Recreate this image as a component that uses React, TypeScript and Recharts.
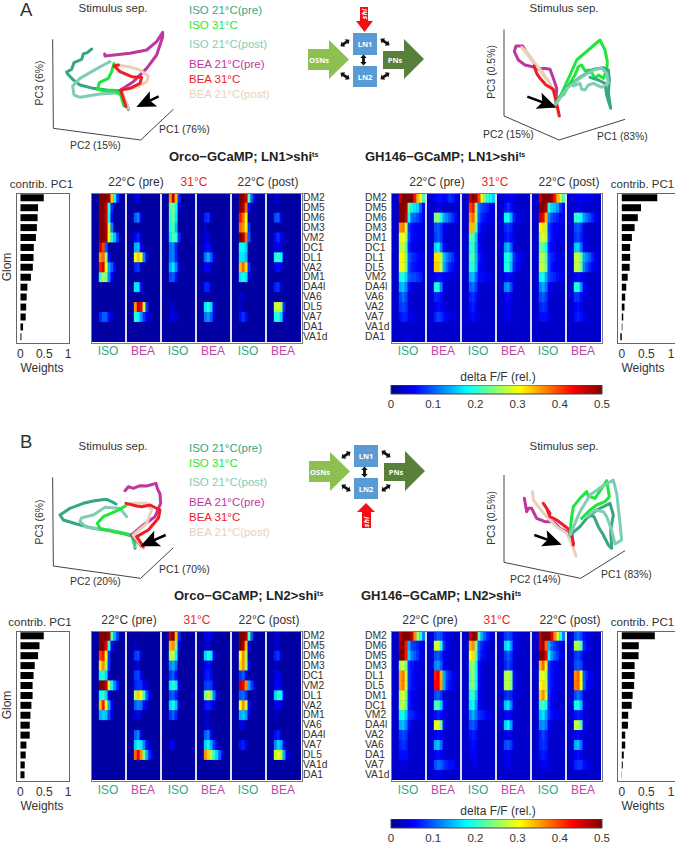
import React from "react";
import {
  Bar,
  BarChart,
  Scatter,
  ScatterChart,
  XAxis,
  YAxis,
} from "recharts";

const FONT = '"Liberation Sans", Arial, sans-serif';
const TEXT = "#333";

const ISO_PRE = "#35a782";
const ISO_31 = "#1fe63a";
const ISO_POST = "#80cdb6";
const BEA_PRE = "#c0369f";
const BEA_31 = "#ee1c25";
const BEA_POST = "#ebcfb8";
const TRACE_COLORS = [ISO_PRE, ISO_POST, ISO_31, BEA_PRE, BEA_POST, BEA_31];

// glomerulus order of each panel
const GLOM_A1 = ["DM2", "DM5", "DM6", "DM3", "VM2", "DC1", "DL1", "VA2", "DM1", "DA4l", "VA6", "DL5", "VA7", "DA1", "VA1d"];
const GLOM_A2 = ["DM2", "DM5", "DM6", "DM3", "DM1", "DC1", "DL1", "DL5", "VM2", "DA4l", "VA6", "VA2", "VA7", "VA1d", "DA1"];
const GLOM_B1 = ["DM2", "DM5", "DM6", "DM3", "DC1", "VM2", "DL1", "VA2", "DM1", "VA6", "DA4l", "VA7", "DL5", "VA1d", "DA1"];
const GLOM_B2 = ["DM2", "DM6", "DM5", "DM3", "DL1", "DL5", "DM1", "DC1", "VM2", "DA4l", "VA2", "VA6", "DA1", "VA7", "VA1d"];

// PC1 weights
const WEIGHTS_A1 = [0.49, 0.37, 0.36, 0.345, 0.325, 0.28, 0.275, 0.26, 0.22, 0.145, 0.13, 0.12, 0.11, 0.055, 0.02];
const WEIGHTS_A2 = [0.72, 0.39, 0.325, 0.26, 0.205, 0.17, 0.17, 0.16, 0.12, 0.09, 0.07, 0.055, 0.03, 0.012, -0.03];
const WEIGHTS_B1 = [0.49, 0.4, 0.37, 0.3, 0.275, 0.255, 0.255, 0.23, 0.21, 0.195, 0.195, 0.125, 0.11, 0.09, 0.085];
const WEIGHTS_B2 = [0.67, 0.345, 0.34, 0.26, 0.26, 0.25, 0.22, 0.2, 0.13, 0.125, 0.07, 0.07, 0.04, 0.02, 0.005];

// Heatmap rows: delta F/F x100 per time bin, starting at odor onset
const A1_ISO_PRE = [[50,50,50,48,33,18,8],[50,50,46,20,8],[50,50,45,18,5],[50,50,47,28,12],[50,50,48,30,20,15,8],[46,40,10],[36,38,25,6],[42,45,30,14,10,5],[20,26,24,12,5],[],[],[],[7,10,10,6,3],[],[]];
const A1_BEA_PRE = [[3,5],[],[10,12,4],[],[5,7,3],[14,15,5],[30,33,30,12,4],[7,8,3],[],[17,17,6],[],[36,46,44,28,8],[20,18,13,8,5,3],[],[]];
const A1_ISO_31 = [[36,46,34,8],[22,24,18,4],[21,23,17],[20,22,15],[17,22,20,8],[11,12,7],[11,12,7],[14,17,12,4],[9,10,6],[],[],[3,3],[3,4,3],[],[]];
const A1_BEA_31 = [[],[],[7,8,3],[3],[4,4],[5,6,3],[11,14,10,4],[5,5,3],[],[7,7,3],[],[17,20,16,4],[11,13,10,4],[],[]];
const A1_ISO_POST = [[50,50,46,22,10,4],[50,48,38,6],[42,38,30],[38,36,30,8],[50,48,38,10],[18,18,16],[17,17,15],[34,38,32,8],[17,19,17,4],[],[3,3],[3],[6,8,6],[],[]];
const A1_BEA_POST = [[3,3],[],[9,10,4],[],[6,8,5,3],[4,5,3],[19,21,18,4],[5,6,4],[],[7,8,3],[],[27,29,26,8],[19,20,16,5],[],[]];

const A2_ISO_PRE = [[46,50,50,50,50,42,34,30,22],[50,50,48,24,18,17,16,10,5],[50,50,46,18,11,10,9,7,5],[36,37,28,8,6,5,5,4,4],[29,30,26,9,6,5,5,4,4],[27,28,22,7,5,4,4,4,3],[30,31,24,10,8,7,6,5,5],[29,30,24,9,7,6,5,5,4],[19,20,16,10,9,9,8,7,4],[14,15,12,6,4,4,3,3,3],[9,11,9,4,3,3,3,3,3],[8,9,8,4,3,3,3,3,3],[6,7,7,5,4,4,3,3,3],[3,3,3,3],[3,3,4,4,3]];
const A2_BEA_PRE = [[5,6,6,5,6,8,7,5],[3,4,4,3],[24,25,20,14,12,10,8,6],[9,10,8,5,4],[8,10,8,4,3],[16,18,12,6,4,3],[32,32,27,15,12,10,8,5],[33,33,27,14,10,7,6,4],[5,6,6,5,4,4,4],[19,20,12,5,3],[7,7,6,3],[5,6,5,4,3],[7,9,8,6,5,4,4],[3,3,3],[3,3,3]];
const A2_ISO_31 = [[46,50,48,40,30,24,20,18,16],[40,42,24,11,9,8,7,5,4],[36,38,26,10,7,6,5,4,4],[34,34,22,7,5,4,4,3,3],[22,22,15,5,4,3,3,3,3],[20,21,14,6,4,3,3,3],[21,22,15,7,5,4,4,3,3],[20,20,15,6,5,4,3,3],[14,15,10,6,6,5,5,4,3],[10,11,8,4,3,3],[7,8,6,3,3],[6,7,5,3],[5,6,5,4,3],[3],[3,3]];
const A2_BEA_31 = [[4,5,5,4],[6,8,6,4],[18,19,14,7,5,4],[7,8,7,4],[6,7,6,4],[13,15,10,4],[18,20,16,8,6,5,4],[19,20,15,7,5,4],[5,6,5,4],[12,13,9,4],[5,6,4],[4,5,4],[4,5,4],[3],[3]];
const A2_ISO_POST = [[46,50,50,50,48,42,34,28,22],[50,50,47,20,16,15,13,8,5],[46,44,34,12,9,8,7,5,4],[31,32,26,8,6,5,5,4,4],[26,29,27,9,6,5,4,4,4],[23,23,18,7,5,4,4,3],[26,27,22,9,7,6,5,4,4],[27,28,23,9,6,5,5,4,4],[18,19,14,9,8,7,6,5,4],[12,14,11,5,4,3,3],[9,10,8,4,3,3],[7,8,7,3,3],[6,6,6,4,3],[3,3],[3,3]];
const A2_BEA_POST = [[4,5,5,4,4,5,4],[3,4,4],[20,21,18,13,11,9,7,5],[9,10,8,4],[8,9,7,4],[15,16,11,5,4],[27,28,24,14,12,10,7,5],[27,28,23,12,9,7,5,4],[5,6,5,4],[19,20,13,5,4],[8,8,6,4],[5,6,5,3],[6,7,6,5,4],[3],[3]];

const B1_ISO_PRE = [[50,50,50,48,22,14,8],[50,50,44,20,6],[40,42,30,8],[32,36,26,8],[18,20,16,3],[50,50,46,28,18,12,7],[18,20,16,4],[34,42,30,14,5],[14,16,15,9,3],[],[],[],[],[],[]];
const B1_BEA_PRE = [[],[3],[8,9,3],[3,3],[8,9,5],[7,8,8,5,3],[26,33,30,20,10,5],[10,12,11,6,3],[4,4,3],[],[10,12,4],[16,19,17,12,6,3],[38,44,36,24,14,7,3],[],[]];
const B1_ISO_31 = [[46,50,34,8],[34,36,24,5],[26,28,18],[12,14,10],[8,10,6],[17,20,17,4],[9,10,7],[16,19,15,3],[8,10,7],[],[],[4,5],[],[],[]];
const B1_BEA_31 = [[4,5,4],[3,3],[16,19,17,5],[5,6,4],[6,7,5],[8,9,8,3],[24,28,24,12,5],[6,7,6,3],[3,3],[3,4],[10,12,5],[16,18,14,8,4],[36,33,26,20,16,10,5],[],[]];
const B1_ISO_POST = [[50,50,48,22,10],[50,48,34,5],[30,36,26],[32,36,26,6],[8,10,6],[46,44,36,14,8,4],[10,11,8],[30,36,28,6],[14,15,13,4],[4,4],[],[6,7,4],[],[],[]];
const B1_BEA_POST = [[3,4],[3,3],[7,8,3],[3],[4,5,3],[5,5,4],[16,20,18,5],[4,5,4],[3],[],[6,7,3],[12,16,14,6],[28,30,27,14,5,3],[],[]];

const B2_ISO_PRE = [[46,50,50,50,46,36,26,20,12],[48,50,42,14,9,8,7,5,4],[50,50,42,16,12,10,8,5,4],[26,28,23,8,6,5,4,4,3],[35,37,28,8,6,5,4,4,4],[35,37,28,8,6,5,4,4,3],[27,29,24,7,5,4,4,3,3],[26,28,22,7,5,4,4,3,3],[18,19,15,8,7,6,5,4,3],[14,15,12,6,4,3,3,3],[8,9,8,4,3,3],[7,8,7,3,3],[6,6,6,4,3],[4,4,4,3],[3,3]];
const B2_BEA_PRE = [[8,10,9,6,4,4],[28,29,20,8,5,4],[9,10,8,5,4],[12,13,10,5,4],[42,44,34,14,9,7,5,4],[43,44,35,14,8,6,5],[9,10,8,4],[21,22,16,6,4],[6,7,6,4],[29,30,23,6,4],[5,6,5,4],[14,15,11,4],[5,6,5,4],[9,11,10,8,7,6,6,4],[4,4,4,3]];
const B2_ISO_31 = [[46,50,48,22,14,10,7,5],[34,36,24,10,7,5,4],[30,32,22,9,6,5,4],[24,26,18,6,4],[23,25,18,6,4,3],[23,25,18,6,4,3],[19,21,15,5,4],[17,19,13,5,4],[12,14,11,8,7,6,5,4],[9,10,8,4,3],[6,7,6,3],[5,6,5,3],[5,5,5,3],[3,4,4,3],[3,3]];
const B2_BEA_31 = [[8,9,8,5,4],[16,18,13,5,4],[8,10,8,4],[7,9,7,4],[26,28,24,6,4],[26,28,24,6,4],[7,8,7,4],[15,17,12,4],[5,6,5,3],[16,18,13,4],[4,5,4,3],[9,10,8,4],[4,5,4],[4,5,4,3],[3,3]];
const B2_ISO_POST = [[46,50,50,50,44,36,28,20,12],[46,48,38,14,10,8,7,5,4],[50,50,44,18,13,10,8,5,4],[34,38,30,8,6,5,4,3],[28,30,26,8,6,5,4,4],[30,32,27,8,6,5,4,4],[33,36,28,8,5,4,4,3],[20,22,18,7,5,4,3],[15,17,13,8,6,5,5,4],[12,13,11,5,4,3],[7,9,7,4,3],[7,8,7,3],[6,7,6,4,3],[4,5,5,4,3],[3,3]];
const B2_BEA_POST = [[9,11,9,6,4,4],[26,27,22,7,5,4],[8,9,7,4],[9,10,9,4],[36,38,30,10,7,5,4],[37,38,30,10,6,5,4],[9,11,9,4],[18,20,15,5,4],[6,7,6,4],[27,28,22,5,4],[5,6,5,3],[14,15,11,4],[5,6,5,3],[7,8,8,6,5,4],[3,3,3]];

// PC trajectories, projected to the page plane
const TA1_ISO_PRE = [[385,328],[372,300],[360,272],[320,270],[280,265],[240,255],[218,238],[203,222],[200,216],[215,208],[222,188],[245,178],[250,162],[262,158],[275,147]];
const TA1_ISO_POST = [[385,325],[365,278],[300,282],[240,292],[222,285],[218,258],[240,235],[275,215],[305,198],[330,185]];
const TA1_ISO_31 = [[372,318],[362,285],[345,272],[310,272],[293,268],[298,248],[325,235],[335,215],[342,190]];
const TA1_BEA_PRE = [[385,325],[362,270],[400,245],[440,205],[470,165],[488,110],[488,97],[470,125],[440,150],[390,160],[315,168],[314,162]];
const TA1_BEA_POST = [[385,325],[365,270],[410,262],[440,245],[445,228],[420,210],[385,200],[350,195]];
const TA1_BEA_31 = [[378,320],[362,270],[390,265],[420,250],[425,232],[395,230],[360,215],[342,198],[355,195]];

const TA2_ISO_PRE = [[642,320],[680,262],[720,232],[760,208],[790,203],[805,210],[808,240],[805,280],[812,325],[800,285],[795,250],[775,240],[750,232]];
const TA2_ISO_POST = [[642,320],[680,265],[720,235],[760,210],[785,205],[800,220],[805,250],[785,262],[760,250],[745,255],[735,270],[725,268],[720,250],[700,258]];
const TA2_ISO_31 = [[645,315],[665,280],[690,225],[710,180],[745,150],[780,120],[795,150],[802,185],[800,210],[790,235],[775,225],[765,235],[750,210],[735,212],[725,195],[715,200],[705,225],[690,250],[670,285]];
const TA2_BEA_PRE = [[648,315],[650,265],[640,235],[630,208],[612,205],[595,208],[578,200],[555,195],[535,180],[523,155],[528,138],[548,138],[565,165],[590,200]];
const TA2_BEA_POST = [[655,345],[645,290],[630,250],[610,220],[580,185],[555,155],[545,142],[560,155],[585,190],[620,240]];
const TA2_BEA_31 = [[658,348],[650,310],[640,268],[618,255],[600,235],[590,220],[582,198]];

const TB1_ISO_PRE = [[405,385],[400,350],[350,335],[280,325],[230,312],[190,300],[180,285],[210,265],[250,250],[280,243],[300,240],[320,238],[335,245],[348,252]];
const TB1_ISO_POST = [[405,380],[395,345],[330,330],[260,322],[240,305],[245,293],[280,285],[315,262],[360,265],[380,290]];
const TB1_ISO_31 = [[405,375],[395,345],[340,335],[300,325],[292,310],[310,290],[345,275],[365,265],[380,255]];
const TB1_BEA_PRE = [[425,380],[395,345],[430,315],[465,290],[482,250],[480,222],[472,205],[468,190],[440,198],[420,197],[400,205],[385,200],[375,212]];
const TB1_BEA_POST = [[430,385],[400,345],[440,310],[455,270],[440,250],[400,250],[380,252]];
const TB1_BEA_31 = [[430,380],[410,350],[445,330],[475,295],[480,270],[450,255],[425,260],[410,258],[378,250]];

const TB2_ISO_PRE = [[690,345],[720,320],[740,295],[770,270],[810,250],[820,285],[812,330],[815,385],[805,375],[790,345],[775,320],[762,290],[745,285]];
const TB2_ISO_POST = [[690,345],[720,275],[750,225],[785,200],[820,180],[830,220],[838,290],[845,360],[825,372],[815,330],[800,290],[790,275],[765,270],[740,290]];
const TB2_ISO_31 = [[690,340],[695,290],[700,260],[720,235],[740,215],[745,228],[765,235],[785,205],[800,182],[808,230],[795,245],[770,255],[750,270],[725,295]];
const TB2_BEA_PRE = [[700,370],[690,340],[660,325],[640,305],[615,305],[590,295],[575,265],[565,265],[560,275],[553,235]];
const TB2_BEA_POST = [[708,408],[695,370],[680,340],[650,320],[620,290],[595,260],[580,240],[578,215]];
const TB2_BEA_31 = [[700,375],[695,335],[670,315],[650,300],[630,290],[620,265],[610,250],[630,280]];

// PC axes corners and pointer arrows of each projection
const AXES_A1 = [[158,118],[160,385],[422,420],[520,328]];
const AXES_A2 = [[492,88],[492,348],[657,420],[855,358]];
const AXES_B1 = [[158,172],[160,438],[422,475],[520,383]];
const AXES_B2 = [[492,165],[492,427],[722,475],[855,392]];
const POINTER_A1 = [[476,289],[420,316]];
const POINTER_A2 = [[562,290],[638,318]];
const POINTER_B1 = [[497,345],[432,374]];
const POINTER_B2 = [[583,345],[654,370]];

const BAR_TICKS = [0, 0.5, 1];
const CBAR_TICKS = [0, 0.1, 0.2, 0.3, 0.4, 0.5];
const CBAR_RANGE = [{ name: "delta F/F", v: 0.5 }];
const JET_STOPS = [
  { at: 0, rgb: [0, 0, 143] },
  { at: 0.11, rgb: [0, 0, 255] },
  { at: 0.36, rgb: [0, 255, 255] },
  { at: 0.61, rgb: [255, 255, 0] },
  { at: 0.86, rgb: [255, 0, 0] },
  { at: 1, rgb: [128, 0, 0] },
];
const CONDITIONS = ["ISO", "BEA", "ISO", "BEA", "ISO", "BEA"];
const PANEL_EDGES = [1, 2, 3, 4, 5];

const BINS = 12;
const ONSET = 3;

const jet = (t: number) => {
  const v = Math.max(0, Math.min(1, t));
  for (let i = 1; i < JET_STOPS.length; i++) {
    const a = JET_STOPS[i - 1];
    const b = JET_STOPS[i];
    if (v <= b.at) {
      const f = (v - a.at) / (b.at - a.at);
      const c = a.rgb.map((ch, k) => Math.round(ch + (b.rgb[k] - ch) * f));
      return `rgb(${c[0]},${c[1]},${c[2]})`;
    }
  }
  return "rgb(128,0,0)";
};

const T = ({ x, y, children, color = TEXT, size = 12, anchor = "start", rotate = false, bold = false }: any) => (
  <div
    style={{
      position: "absolute",
      left: x,
      top: y,
      color,
      fontSize: size,
      fontWeight: bold ? 700 : 400,
      fontFamily: FONT,
      whiteSpace: "nowrap",
      lineHeight: 0.95,
      transform: rotate
        ? "translate(-50%,-50%) rotate(-90deg)"
        : anchor === "middle"
        ? "translate(-50%,-50%)"
        : "translateY(-50%)",
    }}
  >
    {children}
  </div>
);

const noDot = () => <g />;

// one heatmap: six panels of stimulus responses, drawn as a cell per time bin
const Heatmap = ({ left, top, panels, base }: any) => {
  const width = 210;
  const height = 149;
  const cells = panels.flatMap((panel: number[][], p: number) =>
    panel.flatMap((row, r) =>
      Array.from({ length: BINS }, (_, b) => ({
        x: p * BINS + b + 0.25,
        y: r + 0.5,
        v: b >= ONSET && row[b - ONSET] !== undefined ? row[b - ONSET] : base,
      }))
    )
  );
  const cw = width / (BINS * 6) + 0.4;
  const ch = height / 15 + 0.4;
  const Cell = (props: any) => (
    <rect x={props.cx - cw / 2} y={props.cy - ch / 2} width={cw} height={ch} fill={jet(props.payload.v / 50)} />
  );
  return (
    <>
      <div style={{ position: "absolute", left, top, width, height, overflow: "hidden", background: jet(base / 50) }}>
        <div style={{ filter: "blur(0.5px)" }}>
          <ScatterChart width={width} height={height} margin={{ top: 0, right: 0, bottom: 0, left: 0 }}>
            <XAxis type="number" dataKey="x" domain={[0, BINS * 6]} hide />
            <YAxis type="number" dataKey="y" domain={[0, 15]} reversed hide />
            <Scatter data={cells} shape={Cell} isAnimationActive={false} />
            {PANEL_EDGES.map((p) => (
              <Scatter
                key={p}
                data={[{ x: p * BINS, y: 0 }, { x: p * BINS, y: 15 }]}
                line={{ stroke: "#f4f6fa", strokeWidth: 1.8 }}
                shape={noDot}
                isAnimationActive={false}
              />
            ))}
          </ScatterChart>
        </div>
      </div>
      <div style={{ position: "absolute", left: left - 0.5, top: top - 0.5, width, height, border: "1px solid #7a7a85", pointerEvents: "none" }} />
    </>
  );
};

const WeightBars = ({ left, top, boxWidth, domain, weights, gloms, openRight = false }: any) => {
  const data = gloms.map((g: string, i: number) => ({ glom: g, w: weights[i] }));
  return (
    <>
      <div
        style={{
          position: "absolute",
          left: left - 0.5,
          top: top - 0.5,
          width: boxWidth,
          height: 149,
          border: "1px solid #666",
          borderRightWidth: openRight ? 0 : 1,
        }}
      />
      <div style={{ position: "absolute", left: left - 8, top }}>
        <BarChart
          layout="vertical"
          width={boxWidth + 16}
          height={172}
          data={data}
          margin={{ top: 0, right: 8, bottom: 0, left: 8 }}
          barCategoryGap="13%"
        >
          <XAxis
            type="number"
            domain={domain}
            ticks={BAR_TICKS}
            interval={0}
            allowDataOverflow
            axisLine={false}
            tickLine={false}
            height={23}
            tickMargin={1}
            tick={{ fill: TEXT, fontSize: 12, fontFamily: FONT }}
          />
          <YAxis type="category" dataKey="glom" hide />
          <Bar dataKey="w" fill="#000" isAnimationActive={false} />
        </BarChart>
      </div>
    </>
  );
};

const Colorbar = ({ top, id }: any) => (
  <div style={{ position: "absolute", left: 379, top }}>
    <BarChart
      layout="vertical"
      width={235}
      height={30}
      data={CBAR_RANGE}
      margin={{ top: 0, right: 12, bottom: 0, left: 12 }}
      barCategoryGap={0}
    >
      <defs>
        <linearGradient id={id} x1="0" y1="0" x2="1" y2="0">
          {JET_STOPS.map((s) => (
            <stop key={s.at} offset={`${s.at * 100}%`} stopColor={`rgb(${s.rgb.join(",")})`} />
          ))}
        </linearGradient>
      </defs>
      <XAxis
        type="number"
        domain={[0, 0.5]}
        ticks={CBAR_TICKS}
        interval={0}
        height={21}
        axisLine={false}
        tickLine={false}
        tickMargin={0}
        tick={{ fill: TEXT, fontSize: 11.5, fontFamily: FONT }}
      />
      <YAxis type="category" dataKey="name" hide />
      <Bar dataKey="v" fill={`url(#${id})`} stroke="#444" isAnimationActive={false} />
    </BarChart>
  </div>
);

const toPoints = (pts: number[][]) => pts.map(([x, y]) => ({ x, y }));

// 3D projection plot, values in a frame of width x height (tripled page units)
const Projection = ({ left, top, width, height, traces, axes, pointer, order = [0, 1, 2, 3, 4, 5] }: any) => {
  const [tail, tip] = pointer;
  const angle = (Math.atan2(tip[1] - tail[1], tip[0] - tail[0]) * 180) / Math.PI;
  const Head = (props: any) => (
    <polygon
      points="4,0 -15,-8.5 -11,0 -15,8.5"
      fill="#000"
      transform={`translate(${props.cx} ${props.cy}) rotate(${angle})`}
    />
  );
  return (
    <div style={{ position: "absolute", left, top }}>
      <ScatterChart width={width / 3} height={height / 3} margin={{ top: 0, right: 0, bottom: 0, left: 0 }}>
        <XAxis type="number" dataKey="x" domain={[0, width]} hide />
        <YAxis type="number" dataKey="y" domain={[0, height]} reversed hide />
        <Scatter data={toPoints(axes)} line={{ stroke: "#444", strokeWidth: 1 }} shape={noDot} isAnimationActive={false} />
        {order.map((i: number) => (
          <Scatter
            key={i}
            data={toPoints(traces[i])}
            line={{ stroke: TRACE_COLORS[i], strokeWidth: 3, strokeLinejoin: "round", strokeLinecap: "round" }}
            shape={noDot}
            isAnimationActive={false}
          />
        ))}
        <Scatter data={toPoints(pointer)} line={{ stroke: "#000", strokeWidth: 2.5 }} shape={noDot} isAnimationActive={false} />
        <Scatter data={toPoints([tip])} shape={Head} isAnimationActive={false} />
      </ScatterChart>
    </div>
  );
};

const DoubleArrow = ({ x, y, angle }: any) => (
  <g transform={`translate(${x} ${y}) rotate(${angle})`} fill="#111">
    <rect x={-3} y={-1.4} width={6} height={2.8} />
    <polygon points="-5.5,0 -2,-3.2 -2,3.2" />
    <polygon points="5.5,0 2,-3.2 2,3.2" />
  </g>
);

const Circuit = ({ dx, dy, shiBelow }: any) => (
  <svg style={{ position: "absolute", left: 0, top: 0 }} width={675} height={846}>
    <g transform={`translate(${dx} ${dy})`} fontFamily='"Open Sans", sans-serif' fontWeight={700} fill="#fff" textAnchor="middle">
      <polygon points="308,49 329,49 329,40 349,59.5 329,79 329,70 308,70" fill="#8cc152" />
      <text x={319} y={62.5} fontSize={7.5} fill="#fff">OSNs</text>
      <polygon points="383,51 404,51 404,39 424,59 404,79 404,69 383,69" fill="#58803a" />
      <text x={395} y={62.5} fontSize={7.5} fill="#fff">PNs</text>
      <rect x={353} y={33} width={24} height={22} fill="#5b9bd5" />
      <rect x={353} y={66} width={24} height={21} fill="#5b9bd5" />
      <text x={365} y={47} fontSize={7.5} fill="#fff">LN1</text>
      <text x={365} y={79.5} fontSize={7.5} fill="#fff">LN2</text>
      <DoubleArrow x={345} y={43} angle={-35} />
      <DoubleArrow x={385} y={42} angle={35} />
      <DoubleArrow x={363.5} y={60} angle={90} />
      <DoubleArrow x={345} y={76} angle={35} />
      <DoubleArrow x={385} y={76} angle={-35} />
      {shiBelow ? (
        <>
          <polygon points="365,91 374,100 370,100 370,116 361,116 361,100 356,100" fill="#f40f14" />
          <text transform="translate(368 110) rotate(-90)" fontSize={7.5} fontStyle="italic" fill="#fff">shi</text>
        </>
      ) : (
        <>
          <polygon points="360,7 368,7 368,21 373,21 364.5,32 356,21 360,21" fill="#f40f14" />
          <text transform="translate(367 14) rotate(-90)" fontSize={7.5} fontStyle="italic" fill="#fff">shi</text>
        </>
      )}
    </g>
  </svg>
);

const LEGEND_LABELS = [
  { text: "ISO 21°C(pre)", color: ISO_PRE, y: 10 },
  { text: "ISO 31°C", color: ISO_31, y: 24.5 },
  { text: "ISO 21°C(post)", color: ISO_POST, y: 44 },
  { text: "BEA 21°C(pre)", color: BEA_PRE, y: 64 },
  { text: "BEA 31°C", color: BEA_31, y: 79 },
  { text: "BEA 21°C(post)", color: BEA_POST, y: 94 },
];

const Legend = ({ top }: any) => (
  <>
    {LEGEND_LABELS.map((l) => (
      <T key={l.text} x={189} y={top + l.y} color={l.color} size={11.5}>
        {l.text}
      </T>
    ))}
  </>
);

const Title = ({ x, y, prefix, ln }: any) => (
  <T x={x} y={y} bold size={13} color="#222">
    {prefix}−GCaMP; {ln}&gt;shi<sup style={{ fontSize: 7, verticalAlign: "baseline", position: "relative", top: -4 }}>ts</sup>
  </T>
);

const Temps = ({ y, xs }: any) => (
  <>
    <T x={xs[0]} y={y} anchor="middle">22°C (pre)</T>
    <T x={xs[1]} y={y} anchor="middle" color="#ee1c25">31°C</T>
    <T x={xs[2]} y={y} anchor="middle">22°C (post)</T>
  </>
);

const RowLabels = ({ x, top, gloms }: any) => (
  <>
    {gloms.map((g: string, i: number) => (
      <T key={i} x={x} y={top + 5 + i * (149 / 15)} size={10.3}>
        {g}
      </T>
    ))}
  </>
);

const Conditions = ({ y, left }: any) => (
  <>
    {CONDITIONS.map((c, i) => (
      <T key={i} x={left + 17 + i * 35} y={y} anchor="middle" color={c === "ISO" ? ISO_PRE : "#c0469f"}>
        {c}
      </T>
    ))}
  </>
);

const PC_SIZE = 10.4;
const STIM_SIZE = 11.5;

export default function App() {
  return (
    <div style={{ position: "absolute", left: 0, top: 0, width: 675, height: 846, background: "#fff", overflow: "hidden" }}>
      {/* Panel A */}
      <T x={20} y={10} size={18.5}>A</T>
      <T x={113} y={8} anchor="middle" size={STIM_SIZE}>Stimulus sep.</T>
      <T x={564} y={8} anchor="middle" size={STIM_SIZE}>Stimulus sep.</T>
      <Legend top={0} />
      <Circuit dx={0} dy={0} />
      <Projection left={0} top={0} width={1020} height={450}
        traces={[TA1_ISO_PRE, TA1_ISO_POST, TA1_ISO_31, TA1_BEA_PRE, TA1_BEA_POST, TA1_BEA_31]} axes={AXES_A1} pointer={POINTER_A1} />
      <Projection left={340} top={0} width={1005} height={450} order={[3, 4, 5, 2, 0, 1]}
        traces={[TA2_ISO_PRE, TA2_ISO_POST, TA2_ISO_31, TA2_BEA_PRE, TA2_BEA_POST, TA2_BEA_31]} axes={AXES_A2} pointer={POINTER_A2} />
      <T x={40} y={83} rotate size={PC_SIZE}>PC3 (6%)</T>
      <T x={70} y={146} size={PC_SIZE}>PC2 (15%)</T>
      <T x={159} y={130} size={PC_SIZE}>PC1 (76%)</T>
      <T x={492} y={72} rotate size={PC_SIZE}>PC3 (0.5%)</T>
      <T x={483} y={135} size={PC_SIZE}>PC2 (15%)</T>
      <T x={597} y={137} size={PC_SIZE}>PC1 (83%)</T>

      <Title x={169} y={157} prefix="Orco" ln="LN1" />
      <Title x={365} y={157} prefix="GH146" ln="LN1" />
      <T x={41.5} y={184} anchor="middle" size={11.5}>contrib. PC1</T>
      <T x={642.5} y={184} anchor="middle" size={11.5}>contrib. PC1</T>
      <Temps y={183} xs={[136, 194, 268]} />
      <Temps y={183} xs={[437, 495, 569]} />
      <T x={8} y={267} rotate>Glom</T>
      <WeightBars left={16} top={193} boxWidth={52} domain={[-0.094, 1]} weights={WEIGHTS_A1} gloms={GLOM_A1} />
      <Heatmap left={91} top={193} base={1} panels={[A1_ISO_PRE, A1_BEA_PRE, A1_ISO_31, A1_BEA_31, A1_ISO_POST, A1_BEA_POST]} />
      <RowLabels x={303} top={193} gloms={GLOM_A1} />
      <RowLabels x={365} top={193} gloms={GLOM_A2} />
      <Heatmap left={391} top={193} base={3} panels={[A2_ISO_PRE, A2_BEA_PRE, A2_ISO_31, A2_BEA_31, A2_ISO_POST, A2_BEA_POST]} />
      <WeightBars left={617} top={193} boxWidth={60} domain={[-0.097, 1.12]} weights={WEIGHTS_A2} gloms={GLOM_A2} openRight />
      <Conditions y={352} left={91} />
      <Conditions y={352} left={391} />
      <T x={42} y={369} anchor="middle">Weights</T>
      <T x={643} y={369} anchor="middle">Weights</T>
      <T x={498} y={378} anchor="middle">delta F/F (rel.)</T>
      <Colorbar top={385} id="jetA" />

      {/* Panel B */}
      <T x={20} y={442} size={18.5}>B</T>
      <T x={113} y={446} anchor="middle" size={STIM_SIZE}>Stimulus sep.</T>
      <T x={564} y={446} anchor="middle" size={STIM_SIZE}>Stimulus sep.</T>
      <Legend top={438} />
      <Circuit dx={1} dy={412} shiBelow />
      <Projection left={0} top={420} width={1020} height={540}
        traces={[TB1_ISO_PRE, TB1_ISO_POST, TB1_ISO_31, TB1_BEA_PRE, TB1_BEA_POST, TB1_BEA_31]} axes={AXES_B1} pointer={POINTER_B1} />
      <Projection left={340} top={420} width={1005} height={540} order={[3, 4, 5, 2, 0, 1]}
        traces={[TB2_ISO_PRE, TB2_ISO_POST, TB2_ISO_31, TB2_BEA_PRE, TB2_BEA_POST, TB2_BEA_31]} axes={AXES_B2} pointer={POINTER_B2} />
      <T x={40} y={522} rotate size={PC_SIZE}>PC3 (6%)</T>
      <T x={70} y={582} size={PC_SIZE}>PC2 (20%)</T>
      <T x={159} y={570} size={PC_SIZE}>PC1 (70%)</T>
      <T x={492} y={518} rotate size={PC_SIZE}>PC3 (0.5%)</T>
      <T x={510} y={580} size={PC_SIZE}>PC2 (14%)</T>
      <T x={601} y={575} size={PC_SIZE}>PC1 (83%)</T>

      <Title x={174} y={596} prefix="Orco" ln="LN2" />
      <Title x={361} y={596} prefix="GH146" ln="LN2" />
      <T x={40} y={622} anchor="middle" size={11.5}>contrib. PC1</T>
      <T x={642.5} y={622} anchor="middle" size={11.5}>contrib. PC1</T>
      <Temps y={621} xs={[129, 197, 269]} />
      <Temps y={621} xs={[430, 497, 570]} />
      <T x={8} y={705} rotate>Glom</T>
      <WeightBars left={16} top={631} boxWidth={52} domain={[-0.094, 1]} weights={WEIGHTS_B1} gloms={GLOM_B1} />
      <Heatmap left={91} top={631} base={1} panels={[B1_ISO_PRE, B1_BEA_PRE, B1_ISO_31, B1_BEA_31, B1_ISO_POST, B1_BEA_POST]} />
      <RowLabels x={303} top={631} gloms={GLOM_B1} />
      <RowLabels x={365} top={631} gloms={GLOM_B2} />
      <Heatmap left={391} top={631} base={3} panels={[B2_ISO_PRE, B2_BEA_PRE, B2_ISO_31, B2_BEA_31, B2_ISO_POST, B2_BEA_POST]} />
      <WeightBars left={617} top={631} boxWidth={60} domain={[-0.097, 1.12]} weights={WEIGHTS_B2} gloms={GLOM_B2} openRight />
      <Conditions y={791} left={91} />
      <Conditions y={791} left={391} />
      <T x={42} y={807} anchor="middle">Weights</T>
      <T x={643} y={807} anchor="middle">Weights</T>
      <T x={498} y={812} anchor="middle">delta F/F (rel.)</T>
      <Colorbar top={819} id="jetB" />
    </div>
  );
}
